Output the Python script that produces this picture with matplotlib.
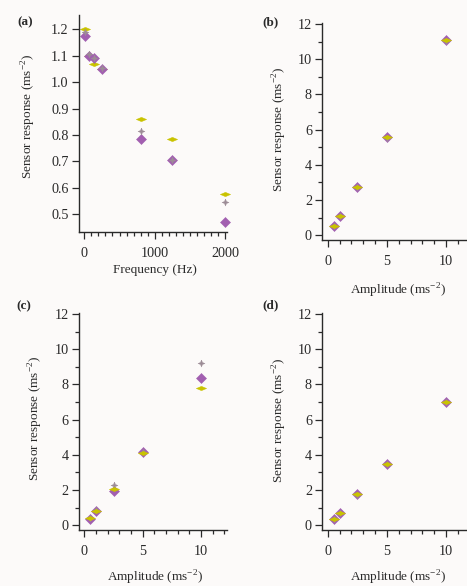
import matplotlib
matplotlib.use("Agg")
import matplotlib.pyplot as plt
from matplotlib.ticker import MultipleLocator

# ---------------- data ----------------
freq_hz = [10, 70, 135, 250, 800, 1250, 2000]
a_purple = [1.175, 1.100, 1.090, 1.050, 0.786, 0.704, 0.472]
a_grey = [1.190, 1.107, 1.092, 1.052, 0.815, 0.706, 0.548]
a_yellow = [1.200, 1.100, 1.067, 1.050, 0.862, 0.786, 0.577]

amplitude = [0.5, 1, 2.5, 5, 10]
b_purple = [0.53, 1.10, 2.74, 5.60, 11.07]
b_grey = [0.50, 1.08, 2.72, 5.50, 11.05]
b_yellow = [0.53, 1.10, 2.74, 5.60, 11.07]

c_purple = [0.38, 0.83, 1.93, 4.15, 8.39]
c_grey = [0.42, 0.85, 2.29, 4.17, 9.22]
c_yellow = [0.40, 0.82, 2.04, 4.13, 7.82]

d_purple = [0.34, 0.72, 1.76, 3.50, 7.00]
d_grey = [0.33, 0.70, 1.74, 3.48, 6.98]
d_yellow = [0.34, 0.72, 1.76, 3.50, 7.00]

panel_labels = ["(a)", "(b)", "(c)", "(d)"]

# ---------------- style ----------------
W, H = 467, 586
BG = "#fcfaf9"
PURPLE = "#a25fb0"
GREY = "#9c8c96"
YELLOW = "#c9c300"
TXT = "#2a2a2a"
plt.rcParams["font.family"] = ["Liberation Serif", "DejaVu Serif"]
plt.rcParams["mathtext.fontset"] = "custom"
plt.rcParams["mathtext.rm"] = "Liberation Serif"
FS = 9.5
TFS = 10.2

flat_diamond = [(-1, 0), (0, 0.42), (1, 0), (0, -0.42), (-1, 0)]
star4 = [(0, 1), (0.28, 0.28), (1, 0), (0.28, -0.28), (0, -1),
         (-0.28, -0.28), (-1, 0), (-0.28, 0.28), (0, 1)]

fig = plt.figure(figsize=(W / 100, H / 100), dpi=100, facecolor=BG)


def make_ax(left_px, top_px, right_px, bottom_px):
    return fig.add_axes([left_px / W, 1 - bottom_px / H,
                         (right_px - left_px) / W, (bottom_px - top_px) / H])


def style(ax):
    ax.set_facecolor(BG)
    for s in ("top", "right"):
        ax.spines[s].set_visible(False)
    for s in ("left", "bottom"):
        ax.spines[s].set_color(TXT)
        ax.spines[s].set_linewidth(1.0)
    ax.tick_params(which="major", direction="out", length=5, width=0.9,
                   color=TXT, labelcolor=TXT, labelsize=TFS)
    ax.tick_params(which="minor", direction="out", length=3.2, width=0.9, color=TXT)
    ax.tick_params(axis="x", which="major", pad=5.5)
    ax.tick_params(axis="y", which="major", pad=2.5)


def plot_series(ax, x, p, g, y, yellow_top=True):
    zy = 4 if yellow_top else 1
    ax.plot(x, p, linestyle="none", marker="D", ms=5.3, mfc=PURPLE, mec=PURPLE,
            mew=0.4, zorder=2, clip_on=False)
    ax.plot(x, g, linestyle="none", marker=star4, ms=5.0, mfc=GREY, mec=GREY,
            mew=0.3, zorder=3, clip_on=False)
    ax.plot(x, y, linestyle="none", marker=flat_diamond, ms=7.4, mfc=YELLOW,
            mec=YELLOW, mew=0.3, zorder=zy, clip_on=False)


# panel (a)
ax_a = make_ax(79, 15, 227, 232)
style(ax_a)
plot_series(ax_a, freq_hz, a_purple, a_grey, a_yellow, yellow_top=False)
ax_a.set_xlim(-75, 2024)
ax_a.set_ylim(0.433, 1.254)
ax_a.xaxis.set_major_locator(MultipleLocator(1000))
ax_a.xaxis.set_minor_locator(MultipleLocator(100))
ax_a.yaxis.set_major_locator(MultipleLocator(0.1))
ax_a.yaxis.set_major_formatter(matplotlib.ticker.FormatStrFormatter("%.1f"))

# panels (b), (c), (d)
ax_b = make_ax(322.3, 22.7, 322.3 + 12.66 * 11.83, 240)
ax_c = make_ax(79, 312.7, 79 + 12.66 * 11.67, 530)
ax_d = make_ax(322.3, 312.7, 322.3 + 12.66 * 11.83, 530)
for ax, p, g, y in ((ax_b, b_purple, b_grey, b_yellow),
                    (ax_c, c_purple, c_grey, c_yellow),
                    (ax_d, d_purple, d_grey, d_yellow)):
    style(ax)
    plot_series(ax, amplitude, p, g, y)
    ax.set_xlim(-0.46, 12.2)
    ax.set_ylim(-0.27, 12.07)
    ax.xaxis.set_major_locator(MultipleLocator(5))
    ax.xaxis.set_minor_locator(MultipleLocator(1))
    ax.yaxis.set_major_locator(MultipleLocator(2))
    ax.yaxis.set_minor_locator(MultipleLocator(1))

ylab = r"Sensor response (ms$^{\mathrm{-2}}$)"
xlab_amp = r"Amplitude (ms$^{\mathrm{-2}}$)"


def ftext(xp, yp, s, **kw):
    fig.text(xp / W, 1 - yp / H, s, color=TXT, fontsize=FS, **kw)


# y labels
ftext(29, 116, ylab, rotation=90, ha="center", va="center")
ftext(280, 129, ylab, rotation=90, ha="center", va="center")
ftext(36, 418, ylab, rotation=90, ha="center", va="center")
ftext(280, 420, ylab, rotation=90, ha="center", va="center")
# x labels
ftext(155, 270, "Frequency (Hz)", ha="center", va="center")
ftext(398, 291, xlab_amp, ha="center", va="center")
ftext(155, 578, xlab_amp, ha="center", va="center")
ftext(398, 578, xlab_amp, ha="center", va="center")
# panel labels
for (xp, yp), s in zip(((17, 22), (262, 22), (16, 306), (262, 305)), panel_labels):
    ftext(xp, yp, s, ha="left", va="center", fontweight="bold")

fig.savefig("out.png", dpi=100, facecolor=BG)
